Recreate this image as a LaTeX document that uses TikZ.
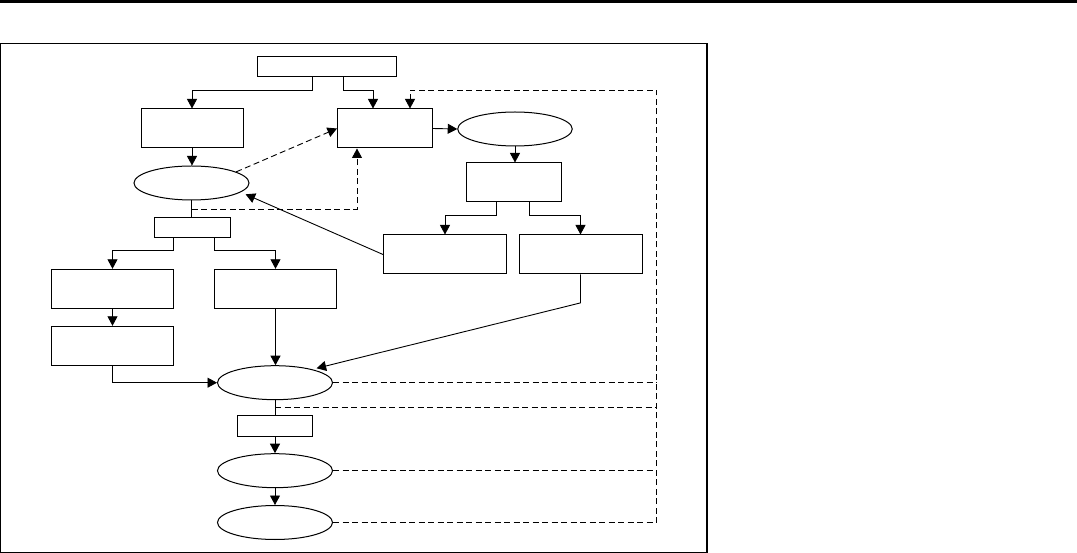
\documentclass[tikz,border=0pt]{standalone}
\usetikzlibrary{arrows.meta,shapes.geometric,calc}
\begin{document}
\begin{tikzpicture}[x=1pt,y=-1pt,
  every node/.style={draw,line width=1pt,inner sep=0pt},
  bx/.style={rectangle,minimum width=#1,minimum height=39pt},
  sbx/.style={rectangle,minimum width=#1,minimum height=20pt},
  ell/.style={ellipse,minimum width=115pt,minimum height=34pt},
  con/.style={line width=0.9pt},
  tip/.style={-{Triangle[length=9.5pt,width=10pt]}},
  arr/.style={con,tip},
  dsh/.style={con,dash pattern=on 6pt off 3.5pt}]
\useasboundingbox (0,0) rectangle (1077,553);
\fill (0,0) rectangle (1077,3.5);
\draw[line width=1.4pt] (0.8,43.5) rectangle (707,552.2);
% nodes
\node[sbx=139pt] (top) at (326.5,67) {};
\node[bx=102pt] (A) at (192,128.5) {};
\node[bx=94.5pt] (B) at (384.75,128.5) {};
\node[ell,minimum width=114.5pt] (E1) at (515,129) {};
\node[bx=94.5pt] (C) at (513.75,182.5) {};
\node[bx=123pt] (D) at (445,254.5) {};
\node[bx=123pt] (E) at (580.5,254.5) {};
\node[ell] (E2) at (191.5,183) {};
\node[sbx=76.5pt] (F) at (192.25,228) {};
\node[bx=122pt] (G) at (112.5,288.8) {};
\node[bx=122pt] (H) at (275.5,288.8) {};
\node[bx=122pt] (I) at (112.5,345.8) {};
\node[ell] (E3) at (275,382.7) {};
\node[sbx=75.3pt] (J) at (275,426) {};
\node[ell] (E4) at (275,470.7) {};
\node[ell] (E5) at (275,522.5) {};
\coordinate (ret) at (656.5,90);
% solid connectors
\draw[arr] ([xshift=-14.5pt]top.south) -- ++(0,13) -| (A.north);
\draw[arr] ([xshift=16.5pt]top.south) -- ++(0,13) -| ([xshift=-11.75pt]B.north);
\draw[arr] (B.east) -- (E1.west);
\draw[arr] (E1.south) -- (E1.south |- C.north);
\draw[arr] ([xshift=-17.75pt]C.south) -- ++(0,13) -| (D.north);
\draw[arr] ([xshift=15.75pt]C.south) -- ++(0,13) -| (E.north);
\draw[arr] (A.south) -- (A.south |- E2.north);
\draw[con] (E2.south) -- (E2.south |- F.north);
\draw[arr] ([xshift=-18.75pt]F.south) -- ++(0,12) -| (G.north);
\draw[arr] ([xshift=22.25pt]F.south) -- ++(0,12) -| (H.north);
\draw[arr] (D.west) -- ($(E2.center)+(54.1,11.3)$);
\draw[arr] (G.south) -- (I.north);
\draw[arr] (I.south) |- (E3.west);
\draw[arr] (H.south) -- (H.south |- E3.north);
\draw[arr] (E.south) -- ++(0,28.4) -- ($(E3.center)+(41.6,-14.4)$);
\draw[con] (E3.south) -- (J.north);
\draw[arr] (J.south) -- (E4.north);
\draw[arr] (E4.south) -- (E5.north);
% dashed connectors
\draw[dsh,tip] (E2.14) -- (B.west);
\draw[dsh,tip] ($(E2.south)!0.5!(F.north)$) -| ([xshift=-27.75pt]B.south);
\draw[dsh,tip] (E5.east) -| (ret) -| ([xshift=25.25pt]B.north);
\draw[dsh] (E4.east) -- (E4.east -| ret);
\draw[dsh] (E3.east) -- (E3.east -| ret);
\draw[dsh] ($(E3.south)+(0,7.4)$) coordinate (m2) -- (m2 -| ret);
\end{tikzpicture}
\end{document}
